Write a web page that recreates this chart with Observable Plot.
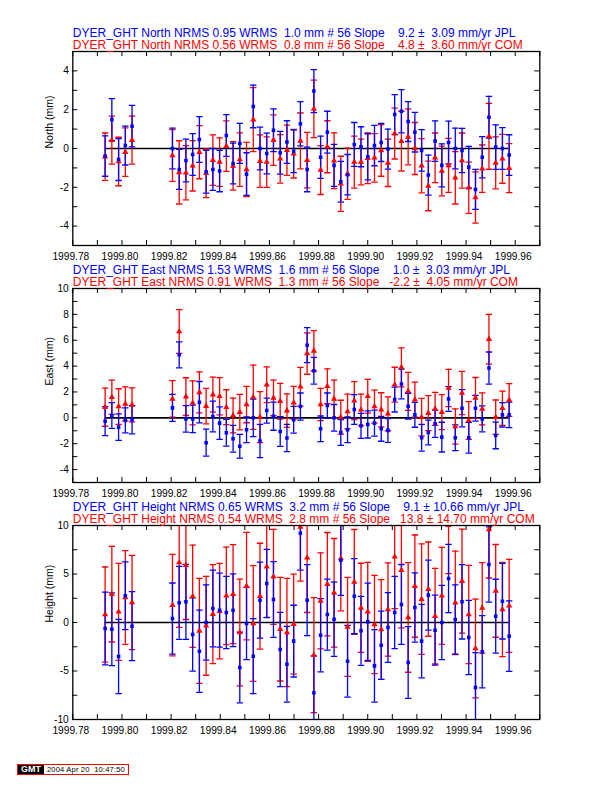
<!DOCTYPE html>
<html><head><meta charset="utf-8">
<script src="https://cdn.jsdelivr.net/npm/d3@7"></script>
<script src="https://cdn.jsdelivr.net/npm/@observablehq/plot@0.6"></script>
<style>
body{margin:0;background:#fff;}
#page{position:relative;width:612px;height:792px;overflow:hidden;font-family:"Liberation Sans",Arial,Helvetica,sans-serif;}
.panel{position:absolute;left:0;}
svg text{white-space:pre;}
#stamp{position:absolute;left:17px;top:764px;height:9px;border:1px solid #f00;display:flex;align-items:stretch;font-family:"Liberation Sans",Arial,sans-serif;}
#stamp .g{background:#000;color:#fff;font-weight:bold;font-size:9px;line-height:9px;width:26px;text-align:center;}
#stamp .t{background:#fff;color:#000;font-size:7.6px;line-height:9px;padding:0 3px 0 3px;white-space:pre;letter-spacing:0.15px;}
</style></head>
<body><div id="page"><div id="stamp"><span class="g">GMT</span><span class="t">2004 Apr 20  10:47:50</span></div></div>
<script>
// Day of year 1999 for each solution
const doy = [290,291,292,293,294, 300,301,302,303,304,305,306,307,308,309, 310,311,312,313,314,315,316,317,318,319, 320,321,322,323,324,325,326,327,328,329, 330,331,332,333,334,335,336,337,338,339, 340,341,342,343,344,345,346,347,348,349,350];

const northJPL = [-0.39,1.49,-0.57,0.15,1.15, 0.00,-1.08,-0.62,-0.31,0.46,-1.20,-1.08,-1.16,0.67,-0.77, 0.26,-1.32,2.17,0.00,-0.26,0.94,-0.22,0.33,-0.14,1.28, -1.08,2.96,-0.45,0.84,-0.87,-1.71,-1.35,0.21,0.09,-0.43, 0.15,0.31,-0.03,1.75,1.92,1.39,0.84,-0.10,-1.37,0.38, -0.87,0.31,0.00,-0.10,-0.96,-2.11,-0.45,1.61,0.07,0.00,-0.34];
const northJPLerr = [1.04,1.08,1.08,1.00,1.07, 1.05,1.03,1.10,1.08,1.18,1.10,1.08,1.07,1.08,1.05, 1.03,1.10,1.10,1.10,1.05,1.10,1.10,1.10,1.10,1.14, 1.15,1.11,1.09,1.08,1.08,1.05,1.04,1.13,1.03,1.19, 1.04,0.98,1.03,1.03,1.11,1.03,1.02,1.07,1.03,1.04, 1.11,1.10,1.05,1.14,1.07,1.03,1.06,1.08,1.15,1.08,1.05];
const northCOM = [-0.42,0.43,-0.67,-0.19,0.43, -0.36,-1.23,-1.25,-0.89,-0.19,-1.28,-0.60,-0.70,0.12,-0.90, -0.57,-1.08,1.49,-0.65,-0.70,0.43,-0.53,-0.09,-0.27,0.39, -0.60,2.04,-1.11,0.09,-0.63,-1.82,-1.30,-0.70,-0.70,-0.50, -0.48,-0.10,-0.74,0.77,0.38,0.60,0.00,-0.89,-1.93,-0.48, -1.16,-0.87,-1.51,-0.62,-2.02,-2.53,-1.04,0.63,-0.74,-0.53,-1.01];
const northCOMerr = [1.22,1.24,1.25,1.25,1.24, 1.33,1.63,1.40,1.30,1.37,1.25,1.30,1.25,1.30,1.25, 1.38,1.40,1.65,1.35,1.30,1.30,1.25,1.30,1.25,1.44, 1.43,1.48,1.26,1.34,1.44,1.42,1.32,1.34,1.18,1.31, 1.25,1.33,1.22,1.31,1.54,1.44,1.34,1.40,1.28,1.28, 1.28,1.39,1.35,1.42,1.32,1.32,1.22,1.70,1.34,1.26,1.26];

const eastJPL = [-0.26,0.18,-0.72,-0.20,-0.15, 0.77,4.87,-0.08,-0.08,1.21,-1.92,0.10,-0.41,-1.15,-1.62, -2.20,-0.92,0.00,-1.79,0.56,0.13,-1.05,-1.56,-0.15,0.87, 5.62,3.64,-0.85,0.95,0.00,-1.13,-0.92,0.64,-0.62,-0.51, -0.41,-0.85,-0.97,1.41,2.62,0.90,0.23,-1.54,-1.13,-0.46, -1.49,1.46,-1.54,0.74,-1.54,0.74,-0.08,3.85,-1.36,0.23,0.23];
const eastJPLerr = [1.12,0.99,1.03,0.97,1.09, 1.05,1.01,1.03,1.06,1.60,1.04,1.19,1.26,1.03,1.03, 0.92,0.99,1.45,1.28,0.97,1.09,1.15,1.05,1.03,1.05, 1.35,1.03,0.99,0.97,1.03,1.00,0.99,1.15,0.97,1.05, 1.00,0.96,0.92,0.96,1.15,1.00,0.96,1.03,0.96,1.05, 1.15,0.96,1.00,1.44,1.19,0.99,1.00,1.24,1.03,0.94,0.99];
const eastCOM = [0.82,1.59,0.87,1.08,1.00, 1.46,6.67,1.64,1.15,1.97,0.90,1.79,1.67,0.82,0.18, 0.44,1.03,1.59,0.05,2.56,1.54,1.28,0.56,1.17,2.40, 4.97,5.18,1.03,2.44,1.46,0.05,0.49,1.33,0.62,1.67, 0.87,0.62,0.31,2.56,3.90,2.05,1.41,0.05,0.36,0.69, 0.44,2.31,-0.67,1.92,-0.21,1.54,0.69,6.08,0.05,0.74,1.38];
const eastCOMerr = [1.47,1.32,1.38,1.32,1.32, 1.41,1.69,1.46,1.70,1.58,1.37,1.35,1.44,1.35,1.35, 1.37,1.41,2.49,1.97,1.38,1.38,1.38,1.30,1.26,1.50, 1.60,1.56,1.24,1.35,1.46,1.31,1.35,1.47,1.22,1.31, 1.28,1.32,1.31,1.35,1.51,1.47,1.35,1.45,1.35,1.28, 1.35,1.44,1.37,1.67,1.46,1.58,1.24,1.92,1.33,1.32,1.26];

const heightJPL = [-0.62,-0.69,-3.50,2.75,-0.38, 0.41,2.03,2.13,-1.24,-2.96,0.00,1.44,1.27,1.03,1.27, -4.64,-0.10,-3.47,2.30,4.02,2.37,-2.78,-4.30,-1.92,9.20, 2.30,-7.25,-1.31,0.82,0.34,6.43,-3.99,2.71,-0.86,0.07, -4.47,-2.34,-0.52,1.03,1.86,-4.12,1.55,-1.92,2.82,-0.79, 0.00,4.54,0.31,2.13,-1.55,-6.70,-3.02,5.98,0.65,2.20,-1.41];
const heightJPLerr = [3.75,3.75,3.83,3.49,3.56, 3.66,3.76,3.87,3.78,4.24,3.88,3.95,3.81,3.73,3.75, 3.64,3.73,3.87,3.92,3.52,3.90,3.83,3.90,3.70,3.80, 3.66,3.80,3.78,3.66,3.83,3.64,3.70,3.87,3.56,3.99, 3.73,3.52,3.60,3.73,4.12,3.70,3.57,3.78,3.61,3.61, 3.83,3.52,3.56,3.83,3.83,3.60,3.73,3.88,3.81,3.90,3.63];
const heightCOM = [0.82,2.92,1.10,2.58,2.06, 1.79,6.19,5.91,2.71,-0.86,-0.34,0.86,1.17,2.75,2.92, -1.03,3.75,-0.10,2.71,5.74,4.71,-0.69,-1.03,-0.17,9.86, 6.67,-3.37,2.23,3.95,3.06,6.60,-0.45,4.19,1.51,1.10, -0.21,-0.72,1.34,6.77,5.40,0.52,3.75,2.41,3.44,0.65, 2.75,10.03,2.03,4.26,0.82,-2.68,1.51,9.59,3.26,1.34,1.72];
const heightCOMerr = [4.90,4.93,5.00,4.83,4.86, 5.24,6.70,5.60,5.27,5.41,5.10,5.10,4.93,5.03,5.10, 5.50,5.55,5.96,5.46,5.22,4.90,5.34,5.58,5.15,5.60, 5.64,5.93,4.95,5.33,5.60,5.40,5.10,5.40,4.60,5.10, 5.07,5.14,4.81,5.33,5.95,5.65,5.27,5.69,4.86,4.93, 5.00,5.00,5.33,5.36,5.07,5.10,4.67,5.00,4.78,4.85,4.79];

// Axis ticks
const xDomain = [1999.78, 1999.97];
const xLabelTicks = [1999.78,1999.80,1999.82,1999.84,1999.86,1999.88,1999.90,1999.92,1999.94,1999.96];
const xMinorTicks = [1999.78,1999.79,1999.80,1999.81,1999.82,1999.83,1999.84,1999.85,1999.86,1999.87,1999.88,1999.89,1999.90,1999.91,1999.92,1999.93,1999.94,1999.95,1999.96,1999.97];
const northLabels = [-4,-2,0,2,4];
const northTicks = [-5,-4,-3,-2,-1,0,1,2,3,4,5];
const eastLabels = [-4,-2,0,2,4,6,8,10];
const eastTicks = [-5,-4,-3,-2,-1,0,1,2,3,4,5,6,7,8,9,10];
const heightLabels = [-10,-5,0,5,10];
const heightTicks = [-10,-7.5,-5,-2.5,0,2.5,5,7.5,10];

// Header texts
const headers = {
  north: ["DYER_GHT North NRMS 0.95 WRMS  1.0 mm # 56 Slope    9.2 \u00b1  3.09 mm/yr JPL",
          "DYER_GHT North NRMS 0.56 WRMS  0.8 mm # 56 Slope    4.8 \u00b1  3.60 mm/yr COM"],
  east:  ["DYER_GHT East NRMS 1.53 WRMS  1.6 mm # 56 Slope    1.0 \u00b1  3.03 mm/yr JPL",
          "DYER_GHT East NRMS 0.91 WRMS  1.3 mm # 56 Slope   -2.2 \u00b1  4.05 mm/yr COM"],
  height:["DYER_GHT Height NRMS 0.65 WRMS  3.2 mm # 56 Slope    9.1 \u00b1 10.66 mm/yr JPL",
          "DYER_GHT Height NRMS 0.54 WRMS  2.8 mm # 56 Slope   13.8 \u00b1 14.70 mm/yr COM"]
};

const BLUE = "#0000ff", RED = "#ff0000";
const t = doy.map(d => 1999 + (d - 0.5) / 365);

const capSymbol = {
  draw(ctx, size) {
    const w = Math.sqrt(size / Math.PI);
    ctx.moveTo(-w, 0); ctx.lineTo(w, 0);
  }
};

const W = 612, mL = 72.3, mR = 72.7, mT = 30, mB = 18, FH = 194;
const FW = W - mL - mR;
const TICK = 5;

function panel(top, cfg) {
  const jpl = t.map((x, i) => ({t: x, v: cfg.jpl[i], e: cfg.jplErr[i]}));
  const com = t.map((x, i) => ({t: x, v: cfg.com[i], e: cfg.comErr[i]}));
  const zero = [{y: 0, x1: t[0], x2: t[t.length - 1]}];
  const errMarks = (data, color) => [
    Plot.ruleX(data, {x: "t", y1: d => d.v - d.e, y2: d => d.v + d.e, stroke: color, strokeWidth: 1.3, clip: true}),
    Plot.dot(data, {x: "t", y: d => d.v + d.e, symbol: capSymbol, r: 3.2, stroke: color, strokeWidth: 1.3, fill: "none", clip: true}),
    Plot.dot(data, {x: "t", y: d => d.v - d.e, symbol: capSymbol, r: 3.2, stroke: color, strokeWidth: 1.3, fill: "none", clip: true})
  ];
  const chart = Plot.plot({
    width: W, height: mT + FH + mB,
    marginLeft: mL, marginRight: mR, marginTop: mT, marginBottom: mB,
    style: {background: "transparent", overflow: "visible", fontFamily: "'Liberation Sans', Arial, Helvetica, sans-serif", fontSize: "10.2px", color: "black"},
    x: {domain: xDomain, axis: null},
    y: {domain: cfg.yDomain, axis: null},
    marks: [
      Plot.ruleY(zero, {y: "y", x1: "x1", x2: "x2", stroke: "black", strokeWidth: 1.6}),
      ...errMarks(com, RED),
      ...errMarks(jpl, BLUE),
      Plot.dot(com, {x: "t", y: "v", symbol: "triangle", r: 2.3, fill: RED, stroke: "none", clip: true}),
      Plot.dot(jpl, {x: "t", y: "v", symbol: "square", r: 2.0, fill: BLUE, stroke: "none", clip: true}),
      Plot.frame({stroke: "black", strokeWidth: 1.3}),
      Plot.tickX(xMinorTicks, {x: d => d, insetTop: FH - TICK, stroke: "black", strokeWidth: 1}),
      Plot.tickX(xMinorTicks, {x: d => d, insetBottom: FH - TICK, stroke: "black", strokeWidth: 1}),
      Plot.tickY(cfg.yTicks, {y: d => d, insetRight: FW - TICK, stroke: "black", strokeWidth: 1}),
      Plot.tickY(cfg.yTicks, {y: d => d, insetLeft: FW - TICK, stroke: "black", strokeWidth: 1}),
      Plot.text(xLabelTicks, {x: d => d, frameAnchor: "bottom", text: d => d.toFixed(2), lineAnchor: "top", dy: 7, dx: -2, fill: "black"}),
      Plot.text(cfg.yLabels, {y: d => d, frameAnchor: "left", text: d => String(d), textAnchor: "end", lineAnchor: "middle", dx: -4, fill: "black"}),
      Plot.text([cfg.label], {frameAnchor: "left", text: d => d, rotate: -90, lineAnchor: "middle", dx: -23, fontSize: 10.5, fill: "black"}),
      Plot.text([cfg.head[0]], {frameAnchor: "top-left", text: d => d, textAnchor: "start", lineAnchor: "middle", dy: -18.5, fontSize: 12, fill: BLUE}),
      Plot.text([cfg.head[1]], {frameAnchor: "top-left", text: d => d, textAnchor: "start", lineAnchor: "middle", dy: -6.8, fontSize: 12, fill: RED})
    ]
  });
  chart.classList.add("panel");
  chart.style.top = top + "px";
  chart.style.position = "absolute";
  document.getElementById("page").appendChild(chart);
}

panel(50.7 - mT, {yDomain: [-5, 5], yTicks: northTicks, yLabels: northLabels, label: "North (mm)",
  jpl: northJPL, jplErr: northJPLerr, com: northCOM, comErr: northCOMerr, head: headers.north});
panel(287.5 - mT, {yDomain: [-5, 10], yTicks: eastTicks, yLabels: eastLabels, label: "East (mm)",
  jpl: eastJPL, jplErr: eastJPLerr, com: eastCOM, comErr: eastCOMerr, head: headers.east});
panel(525 - mT, {yDomain: [-10, 10], yTicks: heightTicks, yLabels: heightLabels, label: "Height (mm)",
  jpl: heightJPL, jplErr: heightJPLerr, com: heightCOM, comErr: heightCOMerr, head: headers.height});
</script></body></html>
